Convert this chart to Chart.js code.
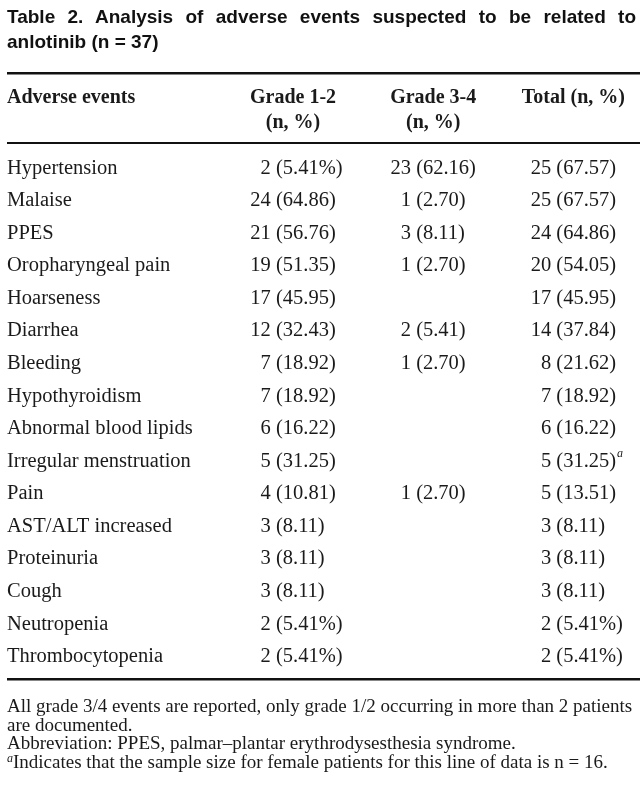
<!DOCTYPE html>
<html>
<head>
<meta charset="utf-8">
<script src="https://cdn.jsdelivr.net/npm/chart.js@4/dist/chart.umd.min.js"></script>
<style>
  html, body { margin: 0; padding: 0; background: #fff; }
  #wrap { position: relative; width: 642px; height: 786px; overflow: hidden; }
  #c { position: absolute; left: 0; top: 0; }
  .title { position: absolute; left: 7px; width: 629px; font-family: "Liberation Sans", Arial, sans-serif; font-weight: bold; font-size: 19px; color: #111; white-space: nowrap; }
  #t1 { top: 6px; text-align: justify; text-align-last: justify; }
  #t2 { top: 31px; }
  #notes { position: absolute; left: 7px; top: 697px; width: 634px; font-family: "Liberation Serif", "Times New Roman", serif; font-size: 19px; line-height: 18.5px; color: #1a1a1a; white-space: nowrap; }
  sup { font-style: italic; font-size: 12px; line-height: 0; vertical-align: 6px; }
</style>
</head>
<body>
<div id="wrap">
  <canvas id="c" width="642" height="786"></canvas>
  <div class="title" id="t1">Table 2. Analysis of adverse events suspected to be related to</div>
  <div class="title" id="t2">anlotinib (n = 37)</div>
  <div id="notes">All grade 3/4 events are reported, only grade 1/2 occurring in more than 2 patients<br>are documented.<br>Abbreviation: PPES, palmar–plantar erythrodysesthesia syndrome.<br><sup>a</sup>Indicates that the sample size for female patients for this line of data is n = 16.</div>
</div>
<script>
// ---- data ----
const events = ["Hypertension","Malaise","PPES","Oropharyngeal pain","Hoarseness","Diarrhea","Bleeding","Hypothyroidism","Abnormal blood lipids","Irregular menstruation","Pain","AST/ALT increased","Proteinuria","Cough","Neutropenia","Thrombocytopenia"];
const rowHeader = "Adverse events";
const columns = ["Grade 1-2\n(n, %)", "Grade 3-4\n(n, %)", "Total (n, %)"];
const g12Count = [2,24,21,19,17,12,7,7,6,5,4,3,3,3,2,2];
const g12Pct = ["5.41%","64.86","56.76","51.35","45.95","32.43","18.92","18.92","16.22","31.25","10.81","8.11","8.11","8.11","5.41%","5.41%"];
const g34Count = [23,1,3,1,null,2,1,null,null,null,1,null,null,null,null,null];
const g34Pct = ["62.16","2.70","8.11","2.70",null,"5.41","2.70",null,null,null,"2.70",null,null,null,null,null];
const totCount = [25,25,24,20,17,14,8,7,6,5,5,3,3,3,2,2];
const totPct = ["67.57","67.57","64.86","54.05","45.95","37.84","21.62","18.92","16.22","31.25","13.51","8.11","8.11","8.11","5.41%","5.41%"];
const totNote = [null,null,null,null,null,null,null,null,null,"a",null,null,null,null,null,null];

const TEXT = "#1a1a1a";
const SERIF = '"Liberation Serif", "Times New Roman", serif';
const BODY_SIZE = 20.5;
const HEAD_SIZE = 20;
const HEAD_LH = 1.25;
const HEAD_PAD = 17;
const bodyFont = BODY_SIZE + 'px ' + SERIF;

function colData(colIdx, counts, pcts, notes) {
  const out = [];
  counts.forEach((n, i) => {
    if (n !== null) out.push({ x: columns[colIdx], y: events[i], n: n, p: pcts[i], note: notes ? notes[i] : null });
  });
  return out;
}

const cellText = {
  id: 'cellText',
  afterDatasetsDraw(chart) {
    const ctx = chart.ctx;
    const area = chart.chartArea;
    const xs = chart.scales.x;
    ctx.save();
    // rules
    ctx.fillStyle = "#111";
    ctx.fillRect(7, Math.round(area.top - 80), 633, 2.5);
    ctx.fillRect(7, Math.round(area.top - 10), 633, 2);
    ctx.fillRect(7, Math.round(area.bottom + 5), 633, 2.5);
    // row header (aligned with first line of column headers)
    const lh = HEAD_SIZE * HEAD_LH;
    ctx.font = 'bold ' + HEAD_SIZE + 'px ' + SERIF;
    ctx.fillStyle = TEXT;
    ctx.textBaseline = 'middle';
    ctx.textAlign = 'left';
    ctx.fillText(rowHeader, 7, xs.bottom - HEAD_PAD - 2 * lh + lh / 2);
    // cells
    ctx.font = bodyFont;
    const w2 = ctx.measureText('00 (00.00)').width;
    const wd = ctx.measureText('0').width;
    chart.data.datasets.forEach((ds, di) => {
      const meta = chart.getDatasetMeta(di);
      meta.data.forEach((el, k) => {
        const d = ds.data[k];
        const s = d.n + ' (' + d.p + ')';
        const left = el.x - w2 / 2 + (d.n < 10 ? wd : 0);
        ctx.font = bodyFont;
        ctx.fillText(s, left, el.y);
        if (d.note) {
          const w = ctx.measureText(s).width;
          ctx.font = 'italic 12px ' + SERIF;
          ctx.fillText(d.note, left + w + 1, el.y - 8);
        }
      });
    });
    ctx.restore();
  }
};

new Chart(document.getElementById('c'), {
  type: 'scatter',
  data: {
    datasets: [
      { data: colData(0, g12Count, g12Pct, null), pointRadius: 0 },
      { data: colData(1, g34Count, g34Pct, null), pointRadius: 0 },
      { data: colData(2, totCount, totPct, totNote), pointRadius: 0 }
    ]
  },
  options: {
    responsive: false,
    animation: false,
    events: [],
    layout: { padding: { left: 7, right: 58, top: 82, bottom: 113 } },
    plugins: { legend: { display: false }, tooltip: { enabled: false } },
    scales: {
      x: {
        type: 'category',
        labels: columns,
        position: 'top',
        offset: false,
        grid: { display: false, drawTicks: false },
        border: { display: false },
        ticks: {
          color: TEXT,
          padding: HEAD_PAD,
          crossAlign: 'far',
          maxRotation: 0,
          autoSkip: false,
          callback(v) { return this.getLabelForValue(v).split('\n'); },
          font: { family: SERIF, size: HEAD_SIZE, weight: 'bold', lineHeight: HEAD_LH }
        },
        afterFit(s) { s.height = 70; }
      },
      y: {
        type: 'category',
        labels: events,
        offset: true,
        grid: { display: false, drawTicks: false },
        border: { display: false },
        ticks: {
          color: TEXT,
          crossAlign: 'far',
          autoSkip: false,
          padding: 0,
          font: { family: SERIF, size: BODY_SIZE }
        },
        afterFit(s) { s.width = 286; }
      }
    }
  },
  plugins: [cellText]
});
</script>
</body>
</html>
